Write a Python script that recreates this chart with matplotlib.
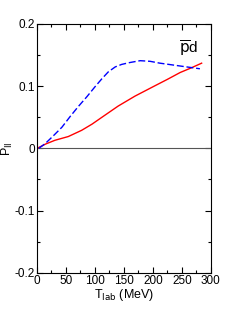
import matplotlib
matplotlib.use('Agg')
import matplotlib.pyplot as plt
from matplotlib.ticker import MultipleLocator, FuncFormatter

plt.rcParams['font.family'] = ['Liberation Sans', 'DejaVu Sans']

# red solid curve
t_red = [0, 15, 31, 54, 77, 95, 112, 140, 169, 200, 225, 247, 265, 284]
p_red = [0.0, 0.007, 0.013, 0.019, 0.029, 0.039, 0.050, 0.068, 0.084, 0.099, 0.111, 0.122, 0.129, 0.137]

# blue dashed curve
t_blue = [3, 14, 28, 43, 57, 71, 86, 100, 112, 123, 135, 146, 160, 178, 195, 212, 235, 258, 281]
p_blue = [0.0, 0.0075, 0.020, 0.034, 0.051, 0.067, 0.083, 0.099, 0.112, 0.123, 0.131, 0.135, 0.138, 0.141, 0.140, 0.137, 0.134, 0.131, 0.128]

fig = plt.figure(figsize=(2.49, 3.23), dpi=100)
ax = fig.add_axes([0.1486, 0.1557, 0.6984, 0.7700])

ax.axhline(0, color='#555555', lw=0.8)
ax.plot(t_red, p_red, color='red', lw=1.0)
ax.plot(t_blue, p_blue, color='blue', lw=1.0, ls=(0, (5, 2)))

ax.set_xlim(0, 300)
ax.set_ylim(-0.2, 0.2)
ax.xaxis.set_major_locator(MultipleLocator(50))
ax.xaxis.set_minor_locator(MultipleLocator(25))
ax.yaxis.set_major_locator(MultipleLocator(0.1))
ax.yaxis.set_minor_locator(MultipleLocator(0.05))
ax.yaxis.set_major_formatter(FuncFormatter(lambda v, p: '0' if abs(v) < 1e-9 else '%g' % v))
ax.tick_params(which='both', direction='in', top=True, right=True, labelsize=8.5, pad=1.5)
ax.tick_params(which='major', length=4, width=0.8)
ax.tick_params(which='minor', length=2, width=0.8)
for s in ax.spines.values():
    s.set_linewidth(0.8)

ax.set_xlabel(r'T$_{\rm lab}$ (MeV)', fontsize=9, labelpad=0)
ax.set_ylabel(r'P$_{\rm ll}$', fontsize=9, labelpad=0)
ax.text(0.87, 0.9, r'$\overline{\rm p}$d', transform=ax.transAxes, fontsize=11, ha='center', va='center')

fig.savefig('out.png', dpi=100)
